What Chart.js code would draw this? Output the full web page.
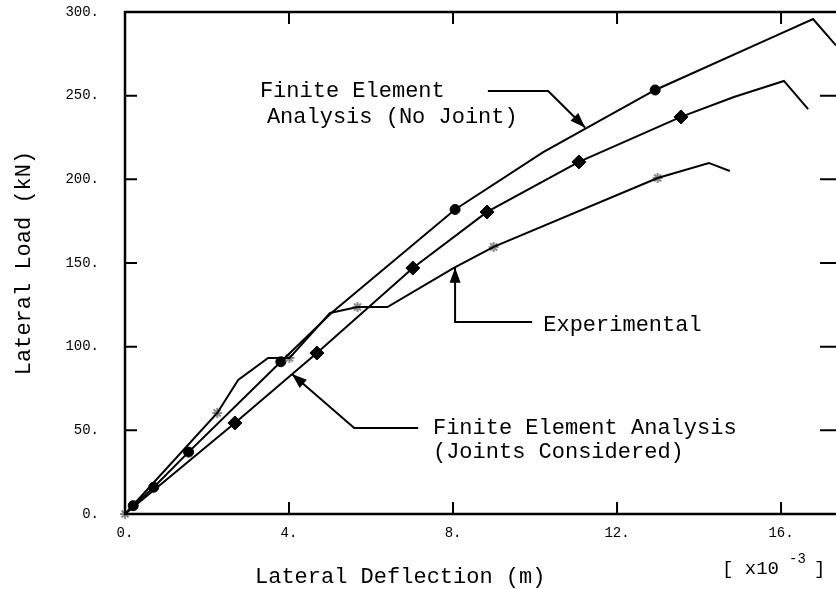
<!DOCTYPE html>
<html>
<head>
<meta charset="utf-8">
<script src="https://cdn.jsdelivr.net/npm/chart.js@4.4.1/dist/chart.umd.min.js"></script>
<style>
  html, body { margin: 0; padding: 0; background: #fff; overflow: hidden; }
  canvas { display: block; }
</style>
</head>
<body>
<canvas id="chart" width="836" height="589"></canvas>
<script>
// deflection in 1e-3 m, load in kN
const xTicks = [0, 4, 8, 12, 16];
const yTicks = [0, 50, 100, 150, 200, 250, 300];

// FE analysis, no joint (circles)
const noJointX = [0, 0.2, 0.7, 1.55, 3.8, 5.06, 8.05, 10.2, 12.93, 16.07, 16.78, 17.34];
const noJointY = [0, 5, 16, 37, 91, 120.7, 182, 216.3, 253.4, 288, 295.8, 280];
const noJointMarkX = [0.2, 0.7, 1.55, 3.8, 8.05, 12.93];
const noJointMarkY = [5, 16, 37, 91, 182, 253.4];

// FE analysis, joints considered (diamonds)
const jointX = [0, 2.68, 4.68, 7.02, 8.83, 11.07, 13.56, 14.85, 16.07, 16.66];
const jointY = [0, 54.4, 96.2, 147, 180.5, 210.4, 237.3, 249.2, 258.8, 242];
const jointMarkX = [2.68, 4.68, 7.02, 8.83, 11.07, 13.56];
const jointMarkY = [54.4, 96.2, 147, 180.5, 210.4, 237.3];

// experimental (grey stars)
const expX = [0, 2.25, 2.76, 3.49, 4.01, 5.0, 5.67, 6.4, 8.01, 8.99, 12.99, 14.24, 14.75];
const expY = [0, 60.4, 80.1, 93.2, 93.2, 120.1, 123.7, 123.7, 147, 159.6, 200.8, 209.8, 205];
const expMarkX = [0, 2.25, 4.01, 5.67, 8.99, 12.99];
const expMarkY = [0, 60.4, 93.2, 123.7, 159.6, 200.8];

// callouts, in data units
const notes = [
  {
    text: [['Finite Element', 3.29, 252.8], ['Analysis (No Joint)', 3.46, 237.3]],
    arrow: [[8.85, 252.8], [10.32, 252.8], [11.22, 231.0]]
  },
  {
    text: [['Experimental', 10.2, 112.9]],
    arrow: [[9.93, 114.7], [8.05, 114.7], [8.05, 147.2]]
  },
  {
    text: [['Finite Element Analysis', 7.51, 51.4], ['(Joints Considered)', 7.51, 37.1]],
    arrow: [[7.15, 51.4], [5.59, 51.4], [4.07, 83.6]]
  }
];

const FONT = '"Liberation Mono", "DejaVu Sans Mono", monospace';
const pts = (xs, ys) => xs.map((x, i) => ({ x, y: ys[i] }));

function lineSet(xs, ys) {
  return {
    data: pts(xs, ys),
    showLine: true,
    borderColor: '#000',
    borderWidth: 2,
    pointRadius: 0,
    tension: 0,
    clip: false
  };
}

function markSet(xs, ys, style, radius, fill, stroke, width) {
  return {
    data: pts(xs, ys),
    showLine: false,
    pointStyle: style,
    pointRadius: radius,
    backgroundColor: fill,
    borderColor: stroke,
    borderWidth: width,
    clip: false
  };
}

function arrowHead(ctx, from, to) {
  const ang = Math.atan2(to[1] - from[1], to[0] - from[0]);
  const len = 15, half = 5.5;
  ctx.beginPath();
  ctx.moveTo(to[0], to[1]);
  ctx.lineTo(to[0] - len * Math.cos(ang) + half * Math.sin(ang), to[1] - len * Math.sin(ang) - half * Math.cos(ang));
  ctx.lineTo(to[0] - len * Math.cos(ang) - half * Math.sin(ang), to[1] - len * Math.sin(ang) + half * Math.cos(ang));
  ctx.closePath();
  ctx.fill();
}

const frame = {
  id: 'frame',
  afterDraw(chart) {
    const { ctx, chartArea: a, scales: { x, y } } = chart;
    ctx.save();
    ctx.strokeStyle = '#000';
    ctx.fillStyle = '#000';

    // left, bottom and top edges (right edge falls just outside the picture)
    ctx.lineWidth = 2.5;
    ctx.beginPath();
    ctx.moveTo(a.right + 2, a.top);
    ctx.lineTo(a.left, a.top);
    ctx.lineTo(a.left, a.bottom);
    ctx.lineTo(a.right + 2, a.bottom);
    ctx.stroke();

    // inward tick marks
    ctx.lineWidth = 2;
    ctx.beginPath();
    xTicks.slice(1).forEach(v => {
      const px = x.getPixelForValue(v);
      ctx.moveTo(px, a.bottom); ctx.lineTo(px, a.bottom - 12);
      ctx.moveTo(px, a.top); ctx.lineTo(px, a.top + 12);
    });
    yTicks.slice(1, -1).forEach(v => {
      const py = y.getPixelForValue(v);
      ctx.moveTo(a.left, py); ctx.lineTo(a.left + 12, py);
      ctx.moveTo(a.right + 2, py); ctx.lineTo(a.right - 16, py);
    });
    ctx.stroke();

    // callouts
    ctx.font = '22px ' + FONT;
    ctx.textAlign = 'left';
    ctx.textBaseline = 'middle';
    ctx.lineWidth = 2;
    notes.forEach(n => {
      n.text.forEach(([t, vx, vy]) => ctx.fillText(t, x.getPixelForValue(vx), y.getPixelForValue(vy)));
      const p = n.arrow.map(([vx, vy]) => [x.getPixelForValue(vx), y.getPixelForValue(vy)]);
      ctx.beginPath();
      ctx.moveTo(p[0][0], p[0][1]);
      p.slice(1).forEach(q => ctx.lineTo(q[0], q[1]));
      ctx.stroke();
      arrowHead(ctx, p[p.length - 2], p[p.length - 1]);
    });

    // axis titles
    ctx.fillText('Lateral Deflection (m)', a.left + 130, 577);
    ctx.save();
    ctx.translate(24, (a.top + a.bottom) / 2);
    ctx.rotate(-Math.PI / 2);
    ctx.textAlign = 'center';
    ctx.fillText('Lateral Load (kN)', 0, 0);
    ctx.restore();

    // exponent note
    ctx.font = '19px ' + FONT;
    ctx.fillText('[ x10', 722, 569);
    ctx.fillText(']', 814, 569);
    ctx.font = '14px ' + FONT;
    ctx.fillText('-3', 789, 559);

    ctx.restore();
  }
};

new Chart(document.getElementById('chart'), {
  type: 'scatter',
  data: {
    datasets: [
      lineSet(expX, expY),
      lineSet(jointX, jointY),
      lineSet(noJointX, noJointY),
      markSet(expMarkX, expMarkY, 'star', 5, '#8c8c8c', '#8c8c8c', 2),
      markSet(jointMarkX, jointMarkY, 'rectRot', 7, '#000', '#000', 1),
      markSet(noJointMarkX, noJointMarkY, 'circle', 5, '#000', '#000', 1)
    ]
  },
  options: {
    responsive: false,
    animation: false,
    devicePixelRatio: 1,
    layout: { autoPadding: false, padding: { left: 39.4, top: 12, right: 0, bottom: 36.2 } },
    plugins: { legend: { display: false }, tooltip: { enabled: false } },
    scales: {
      x: {
        type: 'linear',
        min: 0,
        max: 17.34,
        afterBuildTicks: s => { s.ticks = xTicks.map(v => ({ value: v })); },
        afterFit: s => { s.paddingLeft = 0; s.paddingRight = 0; },
        grid: { display: false, drawTicks: false },
        border: { display: false },
        ticks: {
          padding: 11,
          maxRotation: 0,
          autoSkip: false,
          color: '#000',
          font: { family: FONT, size: 14 },
          callback: v => v + '.'
        }
      },
      y: {
        type: 'linear',
        min: 0,
        max: 300,
        afterBuildTicks: s => { s.ticks = yTicks.map(v => ({ value: v })); },
        afterFit: s => { s.paddingTop = 0; s.paddingBottom = 0; },
        grid: { display: false, drawTicks: false },
        border: { display: false },
        ticks: {
          padding: 26,
          autoSkip: false,
          color: '#000',
          font: { family: FONT, size: 14 },
          callback: v => v + '.'
        }
      }
    }
  },
  plugins: [frame]
});
</script>
</body>
</html>
